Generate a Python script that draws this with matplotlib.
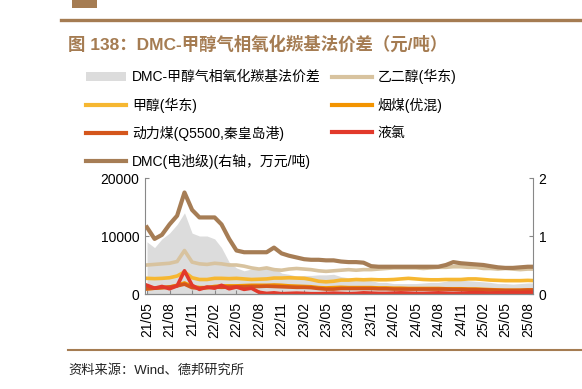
import numpy as np
import pandas as pd
import matplotlib
matplotlib.use('Agg')
import matplotlib.pyplot as plt
import matplotlib.dates as mdates
from matplotlib.patches import Rectangle
from matplotlib.lines import Line2D

plt.rcParams['font.family'] = ['Liberation Sans', 'Noto Sans CJK SC']

# monthly readings, 2021-05 .. 2025-09
months = pd.date_range('2021-05-01', periods=53, freq='MS')

spread = [9000, 8000, 9500, 10500, 12000, 14000, 10500, 10000, 10000, 9500,
          8000, 5500, 4500, 4000, 4300, 4200, 4500, 4600, 3600, 3400,
          3100, 3200, 3200, 3300, 3300, 3400, 3000, 2800, 2800, 2800,
          2300, 2000, 2000, 1800, 1800, 1800, 1800, 1900, 2000, 2000,
          2200, 2600, 2400, 2300, 2200, 2100, 2000, 1800, 1800, 1700,
          1800, 1900, 1900]
glycol = [5000, 5100, 5200, 5300, 5600, 7500, 5500, 5200, 5100, 5300,
          5200, 5000, 5000, 4800, 4500, 4300, 4500, 4200, 4100, 4300,
          4400, 4300, 4200, 4000, 3900, 4000, 4100, 4200, 4100, 4200,
          4200, 4300, 4400, 4500, 4500, 4500, 4500, 4400, 4500, 4600,
          4600, 4700, 4700, 4600, 4600, 4400, 4400, 4300, 4400, 4300,
          4200, 4300, 4300]
methanol = [2700, 2650, 2700, 2800, 3100, 3800, 2800, 2500, 2500, 2700,
            2700, 2650, 2700, 2600, 2500, 2550, 2600, 2750, 2750, 2800,
            2750, 2700, 2500, 2200, 2100, 2200, 2400, 2400, 2500, 2450,
            2500, 2450, 2450, 2500, 2600, 2700, 2600, 2500, 2450, 2450,
            2500, 2500, 2500, 2600, 2600, 2500, 2400, 2350, 2300, 2300,
            2300, 2350, 2300]
coal_mix = [900, 1000, 1100, 1200, 1500, 1900, 1300, 1100, 1100, 1300,
            1400, 1400, 1400, 1450, 1500, 1500, 1500, 1550, 1500, 1400,
            1350, 1300, 1250, 1100, 1050, 1100, 1150, 1100, 1100, 1100,
            1100, 1050, 1050, 1000, 1000, 950, 950, 950, 950, 950,
            900, 900, 900, 850, 850, 800, 750, 700, 650, 650,
            650, 700, 700]
coal_q5500 = [900, 1000, 1100, 1200, 1400, 1700, 1100, 1000, 1100, 1200,
              1150, 1200, 1250, 1250, 1300, 1300, 1350, 1300, 1250, 1200,
              1150, 1150, 1100, 950, 850, 850, 950, 950, 950, 950,
              950, 900, 900, 850, 850, 850, 850, 850, 850, 850,
              850, 800, 800, 780, 760, 720, 680, 640, 620, 620,
              630, 680, 680]
chlorine = [1500, 1000, 1300, 900, 1400, 4000, 1500, 800, 1200, 1000,
            1500, 900, 1200, 800, 1000, 300, 100, 200, 50, 100,
            150, 100, 50, 50, 100, 150, 100, 50, 100, 200,
            150, 100, 100, 150, 200, 150, 100, 100, 150, 200,
            150, 100, 150, 200, 250, 200, 150, 200, 250, 300,
            250, 300, 300]
dmc = [1.15, 0.95, 1.02, 1.20, 1.35, 1.75, 1.45, 1.32, 1.32, 1.32,
       1.20, 0.95, 0.75, 0.72, 0.72, 0.72, 0.72, 0.80, 0.70, 0.66,
       0.63, 0.60, 0.59, 0.59, 0.58, 0.58, 0.56, 0.55, 0.55, 0.54,
       0.48, 0.47, 0.47, 0.47, 0.47, 0.47, 0.47, 0.47, 0.47, 0.47,
       0.50, 0.55, 0.53, 0.52, 0.51, 0.50, 0.48, 0.46, 0.45, 0.45,
       0.46, 0.47, 0.47]

labels = ['DMC-甲醇气相氧化羰基法价差', '乙二醇(华东)', '甲醇(华东)', '烟煤(优混)',
          '动力煤(Q5500,秦皇岛港)', '液氯', 'DMC(电池级)(右轴，万元/吨)']
colors = ['#dcdcdc', '#d8c39f', '#f6b731', '#f39400', '#d4561c', '#e2392b', '#a67d55']
brown = '#a57c52'

fig = plt.figure(figsize=(5.82, 3.89), dpi=100)

# header decoration
fig.add_artist(Rectangle((72 / 582, 1 - 8 / 389), 25 / 582, 8 / 389,
                         transform=fig.transFigure, color=brown, lw=0))
fig.add_artist(Line2D([61 / 582, 1], [1 - 20 / 389] * 2, transform=fig.transFigure,
                      color=brown, lw=2.4))
fig.text(68 / 582, 1 - 44 / 389, '图 138：DMC-甲醇气相氧化羰基法价差（元/吨）',
         fontsize=12.5, fontweight='bold', color=brown, va='center', ha='left')
fig.add_artist(Line2D([68 / 582, 1], [1 - 350 / 389] * 2, transform=fig.transFigure,
                      color=brown, lw=1.5))
fig.text(68 / 582, 1 - 370 / 389, '资料来源：Wind、德邦研究所', fontsize=9.5,
         color='#222222', va='center', ha='left')

ax = fig.add_axes([145 / 582, 95 / 389, 388 / 582, 116 / 389])
ax2 = ax.twinx()

ax.fill_between(months, 0, spread, color=colors[0], lw=0)
series = [glycol, methanol, coal_mix, coal_q5500, chlorine]
for vals, c in zip(series, colors[1:6]):
    ax.plot(months, vals, color=c, lw=2.6)
ax2.plot(months, dmc, color=colors[6], lw=3.0)

ax.set_ylim(0, 20000)
ax2.set_ylim(0, 2)
ax.set_yticks([0, 10000, 20000])
ax2.set_yticks([0, 1, 2])
ax.set_xlim(pd.Timestamp('2021-04-23'), pd.Timestamp('2025-08-22'))
ax.xaxis.set_major_locator(mdates.MonthLocator(bymonth=[2, 5, 8, 11]))
ax.xaxis.set_major_formatter(mdates.DateFormatter('%y/%m'))

for a in (ax, ax2):
    a.spines['top'].set_visible(False)
    for s in ('left', 'right', 'bottom'):
        a.spines[s].set_color('#888888')
        a.spines[s].set_linewidth(0.8)
    a.tick_params(direction='in', length=3, color='#888888', labelsize=10, pad=4)
ax.spines['right'].set_visible(False)
ax2.spines['left'].set_visible(False)
ax.tick_params(axis='x', labelrotation=90, pad=6)

handles = [Rectangle((0, 0), 1, 1, color=colors[0], lw=0)]
handles += [Line2D([], [], color=c, lw=3.0) for c in colors[1:]]
order = [0, 2, 4, 6, 1, 3, 5]
fig.legend([handles[i] for i in order], [labels[i] for i in order], ncol=2,
           loc='upper left', bbox_to_anchor=(86 / 582, 1 - 69 / 389),
           frameon=False, fontsize=10, handlelength=2.9, handleheight=0.6,
           handletextpad=0.4, columnspacing=0.8, labelspacing=0.95,
           borderaxespad=0, borderpad=0)

fig.savefig('out.png', dpi=100)
